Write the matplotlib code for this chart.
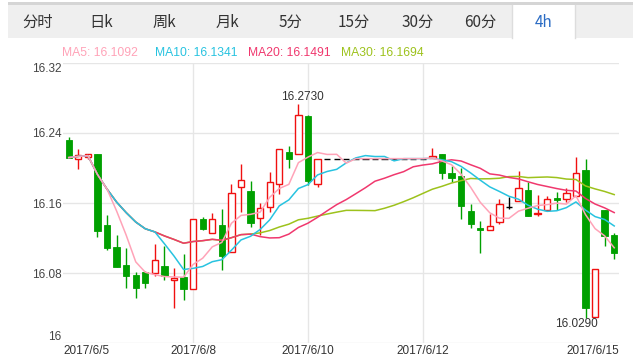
import numpy as np
import pandas as pd
import matplotlib
matplotlib.use('Agg')
import matplotlib.pyplot as plt
from matplotlib.patches import Rectangle
from matplotlib.transforms import blended_transform_factory

plt.rcParams['font.family'] = ['Liberation Sans', 'Noto Sans CJK SC', 'DejaVu Sans']

# 4h candles (open, high, low, close)
opens = [16.2320, 16.2106, 16.2122, 16.2160, 16.1349, 16.1094, 16.0891, 16.0777, 16.0808, 16.0797,
         16.0880, 16.0723, 16.0751, 16.0621, 16.1414, 16.1261, 16.1349, 16.1043, 16.1779, 16.1737,
         16.1425, 16.1558, 16.1814, 16.2179, 16.2157, 16.2594, 16.1814, 16.2106, 16.2106, 16.2106,
         16.2106, 16.2106, 16.2106, 16.2106, 16.2106, 16.2106, 16.2106, 16.2106, 16.2111, 16.2157,
         16.1939, 16.1909, 16.1509, 16.1311, 16.1288, 16.1379, 16.1558, 16.1626, 16.1749, 16.1471,
         16.1517, 16.1657, 16.1642, 16.1680, 16.1977, 16.0300, 16.1520, 16.1234]
highs = [16.2351, 16.2217, 16.2163, 16.2160, 16.1463, 16.1234, 16.1082, 16.0815, 16.0826, 16.1131,
         16.1109, 16.0854, 16.1017, 16.1414, 16.1437, 16.1482, 16.1528, 16.1817, 16.2046, 16.1855,
         16.1597, 16.1951, 16.2214, 16.2251, 16.2730, 16.2606, 16.2103, 16.2106, 16.2106, 16.2106,
         16.2106, 16.2106, 16.2106, 16.2106, 16.2106, 16.2106, 16.2106, 16.2106, 16.2225, 16.2157,
         16.2023, 16.2003, 16.1585, 16.1394, 16.1471, 16.1642, 16.1672, 16.1966, 16.1843, 16.1691,
         16.1680, 16.1722, 16.1768, 16.2122, 16.2099, 16.0842, 16.1520, 16.1254]
lows = [16.2118, 16.1992, 16.2099, 16.1215, 16.1063, 16.0872, 16.0632, 16.0511, 16.0632, 16.0766,
        16.0720, 16.0397, 16.0491, 16.0621, 16.1291, 16.1261, 16.0834, 16.1043, 16.1501, 16.1329,
        16.1234, 16.1501, 16.1699, 16.1997, 16.2157, 16.1806, 16.1779, 16.2106, 16.2106, 16.2106,
        16.2106, 16.2106, 16.2106, 16.2106, 16.2106, 16.2106, 16.2106, 16.2106, 16.2111, 16.1871,
        16.1843, 16.1417, 16.1318, 16.1032, 16.1288, 16.1357, 16.1531, 16.1626, 16.1455, 16.1455,
        16.1517, 16.1520, 16.1615, 16.1680, 16.0290, 16.0300, 16.1109, 16.0957]
closes = [16.2118, 16.2145, 16.2157, 16.1283, 16.1089, 16.0872, 16.0769, 16.0632, 16.0689, 16.0949,
          16.0766, 16.0746, 16.0621, 16.1414, 16.1306, 16.1414, 16.0998, 16.1711, 16.1863, 16.1368,
          16.1539, 16.1843, 16.2214, 16.2099, 16.2606, 16.1855, 16.2103, 16.2106, 16.2106, 16.2106,
          16.2106, 16.2106, 16.2106, 16.2106, 16.2106, 16.2106, 16.2106, 16.2106, 16.2141, 16.1939,
          16.1889, 16.1569, 16.1357, 16.1288, 16.1337, 16.1585, 16.1558, 16.1768, 16.1455, 16.1489,
          16.1642, 16.1638, 16.1711, 16.1939, 16.0408, 16.0842, 16.1226, 16.1032]

ma_periods = [5, 10, 20, 30]
ma_colors = ['#ffa3b8', '#28c3e0', '#f0386e', '#9dc21c']
ma_last = ['16.1092', '16.1341', '16.1491', '16.1694']

date_idx = [0, 13, 25, 37, 57]
date_labels = ['2017/6/5', '2017/6/8', '2017/6/10', '2017/6/12', '2017/6/15']

tabs = ['分时', '日k', '周k', '月k', '5分', '15分', '30分', '60分', '4h']

y_ticks = [16.00, 16.08, 16.16, 16.24, 16.32]
y_labels = ['16', '16.08', '16.16', '16.24', '16.32']

df = pd.DataFrame({'open': opens, 'high': highs, 'low': lows, 'close': closes})
x = np.arange(len(df))

W, H = 633, 357
fig = plt.figure(figsize=(W / 100, H / 100), dpi=100)

# main chart area
ax = fig.add_axes([63 / W, 1 - 343.3 / H, (619 - 63) / W, (343.3 - 62.7) / H])
ax.set_facecolor('none')
ax.set_xlim(-0.6, 57.5)
ax.set_ylim(16.0, 16.32)
for s in ax.spines.values():
    s.set_visible(False)

for yv in y_ticks:
    ax.axhline(yv, color='#e6e6e6', lw=1, zorder=0)
for i in date_idx[1:-1]:
    ax.axvline(i, color='#e6e6e6', lw=1, zorder=0)

ax.set_yticks(y_ticks)
ax.set_yticklabels(y_labels, fontsize=8.5, color='#444')
ax.tick_params(axis='y', length=0, pad=1)
ax.tick_params(axis='x', length=0, labelbottom=False)
ytl = ax.get_yticklabels()
ytl[0].set_va('bottom')
ytl[-1].set_va('top')

# candles
bw = 0.66
for i, r in df.iterrows():
    o, h, l, c = r['open'], r['high'], r['low'], r['close']
    if c > o:
        col = '#f01010'
        ax.vlines(i, l, h, color=col, lw=1, zorder=2)
        ax.bar(i, c - o, bw, bottom=o, facecolor='white', edgecolor=col, lw=1, zorder=3)
    elif c < o:
        col = '#00a000'
        ax.vlines(i, l, h, color=col, lw=1, zorder=2)
        ax.bar(i, c - o, bw, bottom=o, facecolor=col, edgecolor=col, lw=0.6, zorder=3)
    else:
        ax.vlines(i, l, h, color='black', lw=1, zorder=2)
        ax.hlines(c, i - bw / 2, i + bw / 2, color='black', lw=1, zorder=3)

# moving averages (longest drawn first so shorter ones sit on top)
for z, (n, col) in enumerate(reversed(list(zip(ma_periods, ma_colors)))):
    ma = df['close'].rolling(n, min_periods=1).mean()
    ax.plot(x, ma, color=col, lw=1.1, zorder=4 + z * 0.1)

# max / min marks
imax = int(np.argmax(highs))
imin = int(np.argmin(lows))
ax.annotate(f'{highs[imax]:.4f}', (imax, highs[imax]), xytext=(4, 1), textcoords='offset pixels',
            ha='center', va='bottom', fontsize=8.5, color='#333', zorder=5)
ax.annotate(f'{lows[imin]:.4f}', (imin, lows[imin]), xytext=(-9, 0), textcoords='offset pixels',
            ha='center', va='top', fontsize=8.5, color='#333', zorder=5)

# date labels
trans = blended_transform_factory(ax.transData, ax.transAxes)
for k, (i, lab) in enumerate(zip(date_idx, date_labels)):
    if k == 0:
        ax.text(0, -0.029, lab, transform=ax.transAxes, ha='left', va='center', fontsize=8.5, color='#333')
    elif k == len(date_idx) - 1:
        ax.text(1, -0.029, lab, transform=ax.transAxes, ha='right', va='center', fontsize=8.5, color='#333')
    else:
        ax.text(i, -0.029, lab, transform=trans, ha='center', va='center', fontsize=8.5, color='#333')

# header: tab bar and MA legend (pixel coordinates)
top = fig.add_axes([0, 0, 1, 1], zorder=-1)
top.set_xlim(0, W)
top.set_ylim(H, 0)
top.axis('off')
top.add_patch(Rectangle((8, 1.7), W - 8, 3.2, color='#d5d5d5', lw=0))
top.add_patch(Rectangle((8, 4.9), W - 8, 33.4, color='#efefef', lw=0))
tab_w = 63.2
for k, t in enumerate(tabs):
    cx = 38 + k * tab_w
    if k == len(tabs) - 1:
        x0 = cx - tab_w / 2
        top.add_patch(Rectangle((x0, 4.9), tab_w, 34, facecolor='white', lw=0))
        top.plot([x0, x0], [4.9, 38.3], color='#dddddd', lw=1)
        top.plot([x0 + tab_w, x0 + tab_w], [4.9, 38.3], color='#dddddd', lw=1)
        top.text(cx, 22.5, t, ha='center', va='center', fontsize=11, color='#2b6cc4',
                 family=['Noto Sans CJK SC', 'DejaVu Sans'])
    else:
        top.text(cx, 22.5, t, ha='center', va='center', fontsize=11, color='#333',
                 family=['Noto Sans CJK SC', 'DejaVu Sans'])

leg_x = [62, 155, 248, 341]
for n, col, val, lx in zip(ma_periods, ma_colors, ma_last, leg_x):
    top.text(lx, 52.5, f'MA{n}: {val}', ha='left', va='center', fontsize=8.7, color=col)

fig.savefig('out.png', dpi=100)
